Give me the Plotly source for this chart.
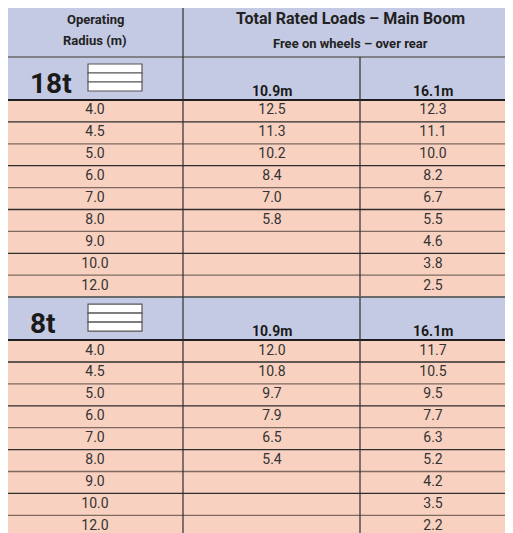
import plotly.graph_objects as go

# ---------------- data ----------------
radius = ["4.0", "4.5", "5.0", "6.0", "7.0", "8.0", "9.0", "10.0", "12.0"]
boom_lengths = ["10.9m", "16.1m"]
counterweights = ["18t", "8t"]
loads_18t_109 = ["12.5", "11.3", "10.2", "8.4", "7.0", "5.8", "", "", ""]
loads_18t_161 = ["12.3", "11.1", "10.0", "8.2", "6.7", "5.5", "4.6", "3.8", "2.5"]
loads_8t_109 = ["12.0", "10.8", "9.7", "7.9", "6.5", "5.4", "", "", ""]
loads_8t_161 = ["11.7", "10.5", "9.5", "7.7", "6.3", "5.2", "4.2", "3.5", "2.2"]
title_main = "Total Rated Loads – Main Boom"
title_sub = "Free on wheels – over rear"
col1_title = ["Operating", "Radius (m)"]

# ---------------- layout constants ----------------
W, H = 513, 533
OFF = 8  # page body margin
X0, X1, X2, X3 = 6, 183, 360, 520
TOP, HDR1 = 7, 57
SEC_H = 43
ROW_H = 21.9
LAV = "#c5cae4"
PEACH = "#f8d1c0"
LINE = "#2e2e2e"
FONT = "Roboto, Arial"
col_centers = [95, 272, 433]

sections = [
    (counterweights[0], loads_18t_109, loads_18t_161),
    (counterweights[1], loads_8t_109, loads_8t_161),
]

shapes = []
annotations = []
traces = []

def rect(x0, y0, x1, y1, fill, lw=0, lc=LINE):
    shapes.append(dict(type="rect", xref="x", yref="y", x0=x0, x1=x1, y0=y0, y1=y1,
                       fillcolor=fill, line=dict(width=lw, color=lc), layer="below"))

def hline(y, x0, x1, color=LINE, w=1.2):
    shapes.append(dict(type="line", xref="x", yref="y", x0=x0, x1=x1, y0=y, y1=y,
                       line=dict(color=color, width=w)))

def vline(x, y0, y1, color=LINE, w=1.2):
    shapes.append(dict(type="line", xref="x", yref="y", x0=x, x1=x, y0=y0, y1=y1,
                       line=dict(color=color, width=w)))

# header row 1
rect(X0, TOP, X3, HDR1, LAV)
annotations += [
    dict(x=col_centers[0], y=19, text="<b>%s</b>" % col1_title[0], showarrow=False,
         font=dict(family=FONT, size=13, color="#222")),
    dict(x=col_centers[0], y=40, text="<b>%s</b>" % col1_title[1], showarrow=False,
         font=dict(family=FONT, size=13, color="#222")),
    dict(x=350, y=18, text="<b>%s</b>" % title_main, showarrow=False,
         font=dict(family=FONT, size=16, color="#222")),
    dict(x=350, y=43, text="<b>%s</b>" % title_sub, showarrow=False,
         font=dict(family=FONT, size=13, color="#222")),
]
hline(TOP, X0, X3, color="#b8908a", w=2)
hline(HDR1, X0, X3, color="#6a6a6a", w=1.5)

y = HDR1
for si, (cw, c2, c3) in enumerate(sections):
    sec_top = y
    rect(X0, sec_top, X3, sec_top + SEC_H, LAV)
    annotations.append(dict(x=28, y=sec_top + 26, text="<b>%s</b>" % cw, showarrow=False,
                            xanchor="left", font=dict(family=FONT, size=28, color="#1a1a1a")))
    # small icon: three stacked boxes
    iy0 = sec_top + 7
    for k in range(3):
        rect(88, iy0 + k * 9, 142, iy0 + (k + 1) * 9, "white", lw=1.2, lc="#555")
    for bi, bl in enumerate(boom_lengths):
        annotations.append(dict(x=col_centers[bi + 1], y=sec_top + 34, text="<b>%s</b>" % bl,
                                showarrow=False, font=dict(family=FONT, size=14, color="#1a1a1a")))
    data_top = sec_top + SEC_H
    rect(X0, data_top, X3, data_top + ROW_H * len(radius), PEACH)
    ys = [data_top + (i + 0.5) * ROW_H for i in range(len(radius))]
    for ci, vals in enumerate([radius, c2, c3]):
        traces.append(go.Scatter(x=[col_centers[ci]] * len(vals), y=ys, text=vals, mode="text",
                                 textfont=dict(family=FONT, size=14, color="#333"),
                                 hoverinfo="skip", showlegend=False))
    hline(data_top, X0, X3, color="#1e1e1e", w=2)
    for i in range(1, len(radius)):
        hline(data_top + i * ROW_H, X0, X3, color=LINE if i % 2 else "#7d6a60", w=1.3)
    vline(X2, sec_top, data_top + ROW_H * len(radius))
    y = data_top + ROW_H * len(radius)
    if si == 0:
        hline(y, X0, X3, color="#6a6a6a", w=2)

vline(X1, TOP, H + 10)
vline(X0, TOP, H + 10, color="#2a2a2a", w=2)

fig = go.Figure(traces)
fig.update_layout(
    width=W - OFF, height=H - OFF, margin=dict(l=0, r=0, t=0, b=0),
    paper_bgcolor="white", plot_bgcolor="white",
    xaxis=dict(range=[OFF, W], visible=False, fixedrange=True),
    yaxis=dict(range=[H, OFF], visible=False, fixedrange=True),
    shapes=shapes, annotations=annotations,
)
fig.write_html("out.html")
